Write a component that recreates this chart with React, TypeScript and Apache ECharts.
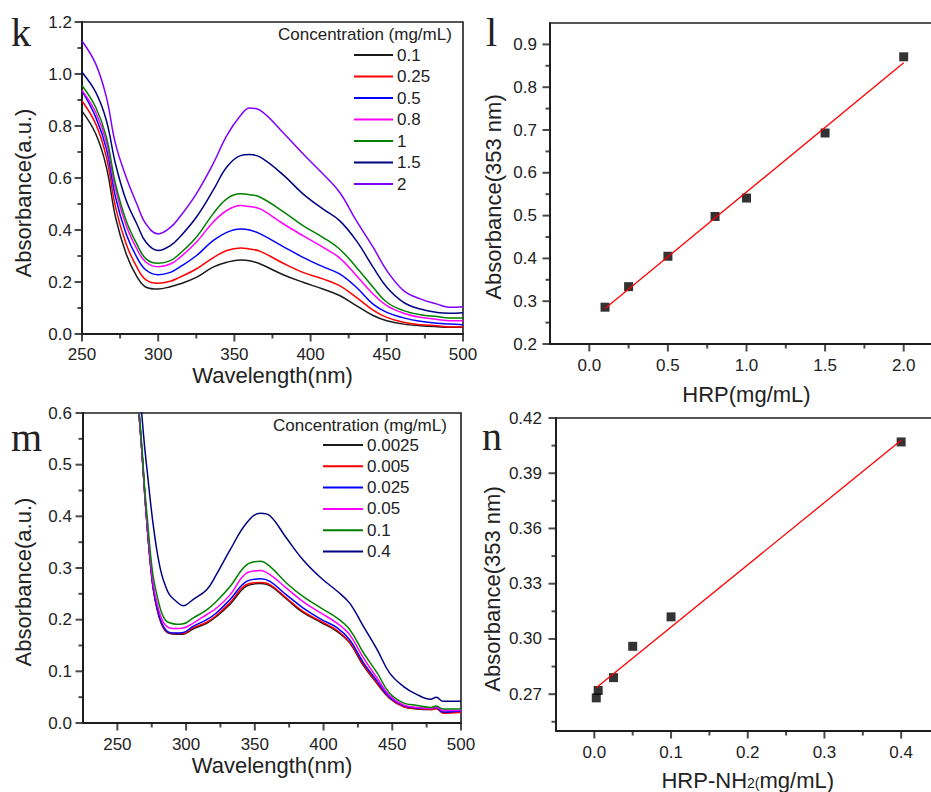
import React, { useEffect, useRef } from 'react';
import * as echarts from 'echarts';

// ---------- Panel k: UV-vis spectra of HRP ----------
const kConcentrations = ['0.1', '0.25', '0.5', '0.8', '1', '1.5', '2'];
const kColors = ['#1a1a1a', '#ff0000', '#0000ff', '#ff00ff', '#008000', '#000080', '#8000ff'];
const kWavelength = [250, 259, 266, 272, 279, 286, 292, 300, 308, 314, 325, 336, 345, 354, 360, 367, 382, 395, 408, 419, 430, 441, 450, 461, 472, 483, 491, 500];
const kAbs01 = [0.857, 0.77, 0.642, 0.449, 0.308, 0.221, 0.18, 0.173, 0.182, 0.192, 0.218, 0.257, 0.276, 0.285, 0.282, 0.269, 0.228, 0.199, 0.173, 0.148, 0.109, 0.071, 0.051, 0.038, 0.032, 0.028, 0.026, 0.026];
const kAbs025 = [0.896, 0.808, 0.68, 0.488, 0.346, 0.257, 0.208, 0.195, 0.203, 0.218, 0.25, 0.293, 0.321, 0.331, 0.327, 0.318, 0.272, 0.237, 0.212, 0.186, 0.141, 0.092, 0.064, 0.045, 0.036, 0.032, 0.027, 0.027];
const kAbs05 = [0.935, 0.834, 0.712, 0.526, 0.385, 0.295, 0.246, 0.228, 0.237, 0.257, 0.301, 0.359, 0.391, 0.404, 0.4, 0.385, 0.336, 0.295, 0.259, 0.231, 0.18, 0.115, 0.083, 0.062, 0.049, 0.041, 0.038, 0.036];
const kAbs08 = [0.937, 0.853, 0.738, 0.558, 0.417, 0.327, 0.276, 0.259, 0.269, 0.293, 0.353, 0.43, 0.475, 0.494, 0.49, 0.481, 0.424, 0.378, 0.334, 0.293, 0.225, 0.154, 0.109, 0.08, 0.064, 0.056, 0.051, 0.051];
const kAbs1 = [0.956, 0.872, 0.757, 0.577, 0.436, 0.346, 0.289, 0.272, 0.282, 0.308, 0.372, 0.462, 0.52, 0.539, 0.536, 0.526, 0.471, 0.417, 0.372, 0.327, 0.257, 0.18, 0.122, 0.09, 0.074, 0.067, 0.062, 0.062];
const kAbs15 = [1.007, 0.93, 0.821, 0.654, 0.513, 0.423, 0.353, 0.321, 0.34, 0.372, 0.449, 0.552, 0.642, 0.686, 0.69, 0.68, 0.612, 0.539, 0.481, 0.436, 0.359, 0.257, 0.18, 0.122, 0.096, 0.083, 0.08, 0.082];
const kAbs2 = [1.127, 1.039, 0.911, 0.731, 0.603, 0.5, 0.423, 0.385, 0.41, 0.449, 0.539, 0.654, 0.763, 0.84, 0.869, 0.86, 0.774, 0.693, 0.616, 0.545, 0.436, 0.334, 0.244, 0.167, 0.135, 0.115, 0.103, 0.105];
const kSeries = [kAbs01, kAbs025, kAbs05, kAbs08, kAbs1, kAbs15, kAbs2];
const kXTicks = [250, 300, 350, 400, 450, 500];
const kXMinor = [275, 325, 375, 425, 475];
const kYTicks = [0, 0.2, 0.4, 0.6, 0.8, 1.0, 1.2];
const kYMinor = [0.1, 0.3, 0.5, 0.7, 0.9, 1.1];

// ---------- Panel l: calibration HRP ----------
const lConc = [0.1, 0.25, 0.5, 0.8, 1.0, 1.5, 2.0];
const lAbs = [0.286, 0.334, 0.405, 0.498, 0.541, 0.693, 0.871];
const lFitX = [0.1, 2.0];
const lFitY = [0.283, 0.857];
const lXTicks = [0, 0.5, 1.0, 1.5, 2.0];
const lXMinor = [0.25, 0.75, 1.25, 1.75];
const lYTicks = [0.2, 0.3, 0.4, 0.5, 0.6, 0.7, 0.8, 0.9];
const lYMinor = [0.25, 0.35, 0.45, 0.55, 0.65, 0.75, 0.85];

// ---------- Panel m: UV-vis spectra of HRP-NH2 ----------
const mConcentrations = ['0.0025', '0.005', '0.025', '0.05', '0.1', '0.4'];
const mColors = ['#1a1a1a', '#ff0000', '#0000ff', '#ff00ff', '#008000', '#000080'];
const mWavelength = [255, 262, 266, 268, 270, 272, 274, 276, 279, 282, 285, 288, 293, 298, 305, 315, 322, 332, 344, 354, 361, 373, 385, 398, 410, 419, 429, 439, 448, 458, 468, 478, 482, 487, 500];
const mAbs00025 = [0.94, 0.73, 0.59, 0.52, 0.44, 0.37, 0.31, 0.261, 0.219, 0.192, 0.178, 0.173, 0.172, 0.172, 0.182, 0.193, 0.206, 0.23, 0.265, 0.27, 0.266, 0.24, 0.214, 0.195, 0.177, 0.155, 0.111, 0.076, 0.048, 0.032, 0.027, 0.026, 0.028, 0.021, 0.022];
const mAbs0005 = [0.94, 0.73, 0.59, 0.52, 0.44, 0.37, 0.31, 0.262, 0.22, 0.193, 0.179, 0.174, 0.173, 0.173, 0.184, 0.195, 0.208, 0.233, 0.268, 0.272, 0.268, 0.242, 0.216, 0.197, 0.179, 0.156, 0.113, 0.077, 0.048, 0.032, 0.028, 0.026, 0.028, 0.019, 0.021];
const mAbs0025 = [0.94, 0.73, 0.59, 0.52, 0.44, 0.37, 0.31, 0.263, 0.222, 0.195, 0.181, 0.175, 0.174, 0.175, 0.187, 0.2, 0.213, 0.239, 0.274, 0.279, 0.274, 0.248, 0.223, 0.201, 0.184, 0.161, 0.117, 0.081, 0.05, 0.034, 0.029, 0.028, 0.03, 0.021, 0.023];
const mAbs005 = [0.94, 0.73, 0.59, 0.52, 0.44, 0.375, 0.315, 0.27, 0.23, 0.203, 0.189, 0.184, 0.183, 0.184, 0.193, 0.21, 0.222, 0.248, 0.29, 0.295, 0.287, 0.261, 0.235, 0.213, 0.193, 0.171, 0.126, 0.087, 0.053, 0.035, 0.03, 0.028, 0.031, 0.024, 0.024];
const mAbs01 = [0.95, 0.74, 0.6, 0.53, 0.45, 0.39, 0.33, 0.285, 0.245, 0.215, 0.199, 0.194, 0.191, 0.192, 0.203, 0.219, 0.235, 0.264, 0.306, 0.313, 0.303, 0.271, 0.245, 0.223, 0.203, 0.181, 0.136, 0.097, 0.058, 0.039, 0.034, 0.03, 0.033, 0.027, 0.027];
const mAbs04 = [0.98, 0.79, 0.66, 0.59, 0.53, 0.48, 0.43, 0.385, 0.33, 0.29, 0.265, 0.248, 0.235, 0.227, 0.239, 0.258, 0.287, 0.335, 0.387, 0.406, 0.401, 0.358, 0.316, 0.281, 0.255, 0.232, 0.187, 0.142, 0.097, 0.071, 0.055, 0.046, 0.05, 0.042, 0.042];
const mSeries = [mAbs00025, mAbs0005, mAbs0025, mAbs005, mAbs01, mAbs04];
const mXTicks = [250, 300, 350, 400, 450, 500];
const mXMinor = [275, 325, 375, 425, 475];
const mYTicks = [0, 0.1, 0.2, 0.3, 0.4, 0.5, 0.6];
const mYMinor = [0.05, 0.15, 0.25, 0.35, 0.45, 0.55];

// ---------- Panel n: calibration HRP-NH2 ----------
const nConc = [0.0025, 0.005, 0.025, 0.05, 0.1, 0.4];
const nAbs = [0.268, 0.272, 0.279, 0.296, 0.312, 0.407];
const nFitX = [0.0025, 0.4];
const nFitY = [0.2735, 0.4079];
const nXTicks = [0, 0.1, 0.2, 0.3, 0.4];
const nXMinor = [0.05, 0.15, 0.25, 0.35];
const nYTicks = [0.27, 0.3, 0.33, 0.36, 0.39, 0.42];
const nYMinor = [0.255, 0.285, 0.315, 0.345, 0.375, 0.405];

const FONT = 'Liberation Sans, Arial, sans-serif';
const SERIF = 'Liberation Serif, Times New Roman, serif';
const AX = '#1e1e1e';
const LEGEND_TITLE = 'Concentration (mg/mL)';
const MAJOR_LEN = 7.5;
const MINOR_LEN = 4.5;
const TICK_W = 2;

type Panel = { left: number; top: number; width: number; height: number; xMin: number; xMax: number; yMin: number; yMax: number; xMargin: number; yMargin: number };

const panels: Panel[] = [
  { left: 82, top: 22, width: 381, height: 312, xMin: 250, xMax: 500, yMin: 0, yMax: 1.2, xMargin: 12, yMargin: 10 },
  { left: 550, top: 23, width: 393, height: 321, xMin: -0.25, xMax: 2.25, yMin: 0.2, yMax: 0.95, xMargin: 13, yMargin: 13 },
  { left: 83, top: 413, width: 378, height: 310, xMin: 225, xMax: 500, yMin: 0, yMax: 0.6, xMargin: 12.5, yMargin: 11 },
  { left: 556, top: 418, width: 383.5, height: 313, xMin: -0.05, xMax: 0.45, yMin: 0.25, yMax: 0.42, xMargin: 13, yMargin: 14 },
];

const panelTicks = [
  { xMajor: kXTicks, xMinor: kXMinor, yMajor: kYTicks, yMinor: kYMinor },
  { xMajor: lXTicks, xMinor: lXMinor, yMajor: lYTicks, yMinor: lYMinor },
  { xMajor: mXTicks, xMinor: mXMinor, yMajor: mYTicks, yMinor: mYMinor },
  { xMajor: nXTicks, xMinor: nXMinor, yMajor: nYTicks, yMinor: nYMinor },
];

function mainAxis(dim: 'x' | 'y', gridIndex: number, min: number, max: number, labels: number[], digits: number, margin: number, name?: string, nameGap?: number, rich?: any) {
  const ax: any = {
    type: 'value', gridIndex, min, max, position: dim === 'x' ? 'bottom' : 'left',
    axisLine: { show: true, onZero: false, lineStyle: { color: AX, width: 2 } },
    axisTick: { show: false },
    axisLabel: { show: true, customValues: labels, margin, fontSize: 17, fontFamily: FONT, color: '#222', formatter: (v: number) => v.toFixed(digits) },
    splitLine: { show: false },
  };
  if (name) {
    ax.name = name;
    ax.nameLocation = 'middle';
    ax.nameGap = nameGap;
    ax.nameMoveOverlap = false;
    ax.nameTextStyle = { fontSize: 22, fontFamily: FONT, color: '#222', rich };
  }
  return ax;
}

// Tick marks as thin rectangle symbols sitting on the axis, placed by the axes' own scales.
function tickSeries(gi: number, dim: 'x' | 'y', vals: number[], len: number, p: Panel) {
  const data = vals.map((v) => (dim === 'x' ? [v, p.yMin] : [p.xMin, v]));
  return {
    type: 'scatter', name: `ticks-${gi}-${dim}-${len}`, xAxisIndex: gi, yAxisIndex: gi,
    data, symbol: 'rect', clip: false, silent: true, z: 5,
    symbolSize: dim === 'x' ? [TICK_W, len] : [len, TICK_W],
    symbolOffset: dim === 'x' ? [0, len / 2] : [-len / 2, 0],
    itemStyle: { color: AX },
    emphasis: { disabled: true },
  };
}

function legendGraphics(titleX: number, titleY: number, lineX1: number, lineX2: number, textX: number, firstY: number, step: number, labels: string[], colors: string[]) {
  const els: any[] = [
    { type: 'text', x: titleX, y: titleY, style: { text: LEGEND_TITLE, font: `17px ${FONT}`, fill: '#222', textAlign: 'left', textVerticalAlign: 'middle', align: 'left', verticalAlign: 'middle' } },
  ];
  labels.forEach((lab, i) => {
    const y = firstY + i * step;
    els.push({ type: 'line', shape: { x1: lineX1, y1: y, x2: lineX2, y2: y }, style: { stroke: colors[i], lineWidth: 2 } });
    els.push({ type: 'text', x: textX, y, style: { text: lab, font: `17px ${FONT}`, fill: '#222', textAlign: 'left', textVerticalAlign: 'middle', align: 'left', verticalAlign: 'middle' } });
  });
  return els;
}

function textEl(x: number, y: number, text: string, font: string, rotation = 0, align = 'center') {
  return { type: 'text', x, y, rotation, style: { text, font, fill: '#222', textAlign: align, textVerticalAlign: 'middle', align, verticalAlign: 'middle' } };
}

export default function App() {
  const ref = useRef<HTMLDivElement>(null);
  useEffect(() => {
    if (!ref.current) return;
    const chart = echarts.init(ref.current, null, { renderer: 'svg' });

    const grids: any[] = panels.map((p) => ({
      left: p.left, top: p.top, width: p.width, height: p.height,
      show: true, borderColor: AX, borderWidth: 1.6, backgroundColor: 'transparent', containLabel: false, outerBoundsMode: 'none',
    }));
    const xAxes: any[] = [
      mainAxis('x', 0, panels[0].xMin, panels[0].xMax, kXTicks, 0, panels[0].xMargin, 'Wavelength(nm)', 30),
      mainAxis('x', 1, panels[1].xMin, panels[1].xMax, lXTicks, 1, panels[1].xMargin, 'HRP(mg/mL)', 39),
      mainAxis('x', 2, panels[2].xMin, panels[2].xMax, mXTicks, 0, panels[2].xMargin, 'Wavelength(nm)', 31),
      mainAxis('x', 3, panels[3].xMin, panels[3].xMax, nXTicks, 1, panels[3].xMargin, 'HRP-NH{sub|2(}mg/mL)', 38, { sub: { fontSize: 14, fontFamily: FONT, color: '#222', padding: [6, 0, 0, 0] } }),
    ];
    const yAxes: any[] = [
      mainAxis('y', 0, panels[0].yMin, panels[0].yMax, kYTicks, 1, panels[0].yMargin),
      mainAxis('y', 1, panels[1].yMin, panels[1].yMax, lYTicks, 1, panels[1].yMargin),
      mainAxis('y', 2, panels[2].yMin, panels[2].yMax, mYTicks, 1, panels[2].yMargin),
      mainAxis('y', 3, panels[3].yMin, panels[3].yMax, nYTicks, 2, panels[3].yMargin),
    ];

    const series: any[] = [];
    kSeries.forEach((vals, i) => {
      series.push({
        type: 'line', name: 'k ' + kConcentrations[i], xAxisIndex: 0, yAxisIndex: 0,
        data: kWavelength.map((w, j) => [w, vals[j]]),
        symbol: 'none', showSymbol: false, smooth: 0.4, clip: true, silent: true,
        color: kColors[i], lineStyle: { color: kColors[i], width: 1.5 },
      });
    });
    series.push({
      type: 'line', name: 'l fit', xAxisIndex: 1, yAxisIndex: 1,
      data: lFitX.map((x, j) => [x, lFitY[j]]), symbol: 'none', silent: true,
      lineStyle: { color: '#ff0000', width: 1.3 },
    });
    series.push({
      type: 'scatter', name: 'l data', xAxisIndex: 1, yAxisIndex: 1,
      data: lConc.map((x, j) => [x, lAbs[j]]), symbol: 'rect', symbolSize: 9, silent: true,
      itemStyle: { color: '#000' },
    });
    mSeries.forEach((vals, i) => {
      series.push({
        type: 'line', name: 'm ' + mConcentrations[i], xAxisIndex: 2, yAxisIndex: 2,
        data: mWavelength.map((w, j) => [w, vals[j]]),
        symbol: 'none', showSymbol: false, smooth: 0.4, clip: true, silent: true,
        color: mColors[i], lineStyle: { color: mColors[i], width: 1.5 },
      });
    });
    series.push({
      type: 'line', name: 'n fit', xAxisIndex: 3, yAxisIndex: 3,
      data: nFitX.map((x, j) => [x, nFitY[j]]), symbol: 'none', silent: true,
      lineStyle: { color: '#ff0000', width: 1.3 },
    });
    series.push({
      type: 'scatter', name: 'n data', xAxisIndex: 3, yAxisIndex: 3,
      data: nConc.map((x, j) => [x, nAbs[j]]), symbol: 'rect', symbolSize: 9, silent: true,
      itemStyle: { color: '#000' },
    });
    panels.forEach((p, gi) => {
      const t = panelTicks[gi];
      series.push(tickSeries(gi, 'x', t.xMajor, MAJOR_LEN, p));
      series.push(tickSeries(gi, 'x', t.xMinor, MINOR_LEN, p));
      series.push(tickSeries(gi, 'y', t.yMajor, MAJOR_LEN, p));
      series.push(tickSeries(gi, 'y', t.yMinor, MINOR_LEN, p));
    });

    const graphic: any[] = [
      textEl(11, 32, 'k', `40px ${SERIF}`, 0, 'left'),
      textEl(486, 32, 'l', `40px ${SERIF}`, 0, 'left'),
      textEl(11, 437, 'm', `40px ${SERIF}`, 0, 'left'),
      textEl(482, 436, 'n', `40px ${SERIF}`, 0, 'left'),
      textEl(23, 193, 'Absorbance(a.u.)', `22px ${FONT}`, Math.PI / 2),
      textEl(493, 197, 'Absorbance(353 nm)', `22px ${FONT}`, Math.PI / 2),
      textEl(23, 582, 'Absorbance(a.u.)', `22px ${FONT}`, Math.PI / 2),
      textEl(492, 589, 'Absorbance(353 nm)', `22px ${FONT}`, Math.PI / 2),
      ...legendGraphics(278, 34, 354, 393, 397, 55, 21.5, kConcentrations, kColors),
      ...legendGraphics(273, 425, 323, 363, 367, 445, 21.3, mConcentrations, mColors),
    ];

    chart.setOption({
      animation: false,
      backgroundColor: '#fff',
      grid: grids,
      xAxis: xAxes,
      yAxis: yAxes,
      series,
      graphic,
    });
    return () => chart.dispose();
  }, []);
  return <div ref={ref} style={{ position: 'absolute', left: 0, top: 0, width: 931, height: 792 }} />;
}
